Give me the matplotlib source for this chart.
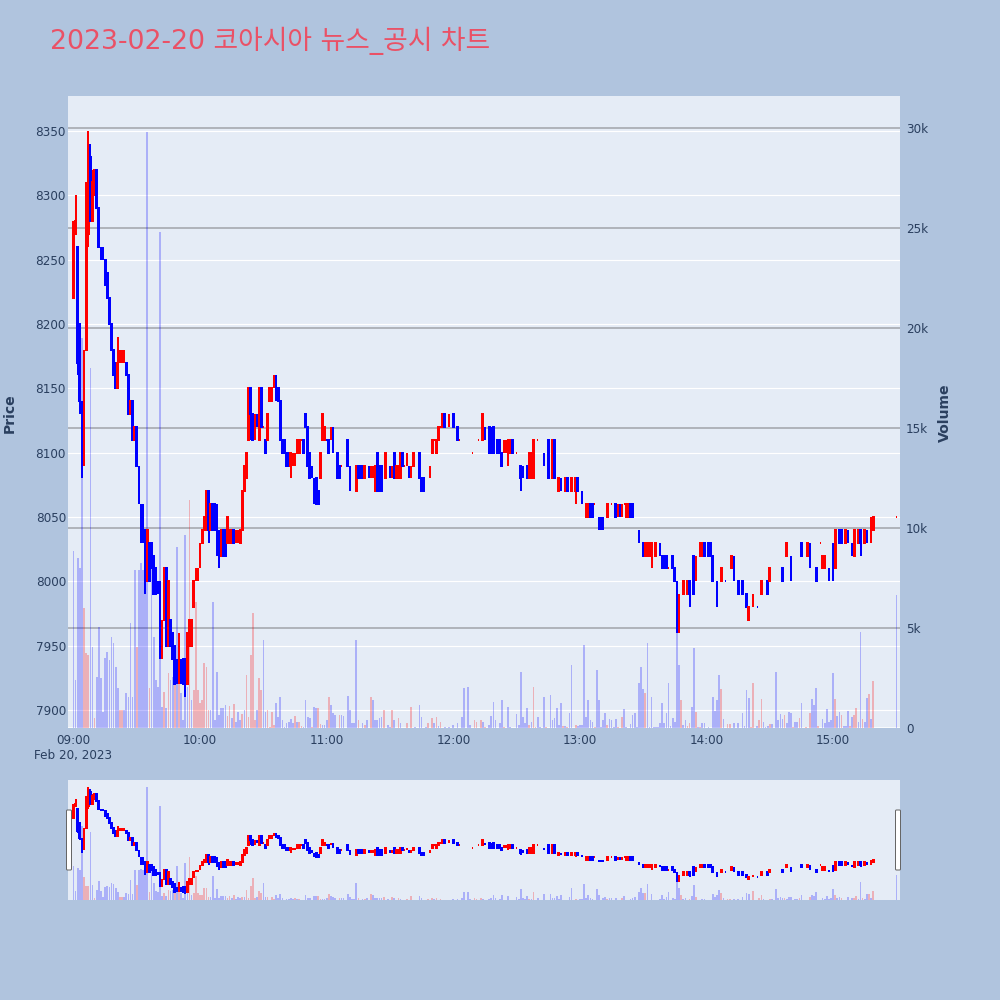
import matplotlib
matplotlib.use("Agg")
import matplotlib.pyplot as plt
from matplotlib.patches import FancyBboxPatch
from matplotlib.transforms import blended_transform_factory

plt.rcParams['font.family'] = ['DejaVu Sans', 'Noto Sans CJK KR']

# ---------------- data (minutes after 09:00) ----------------
title_text = "2023-02-20 코아시아 뉴스_공시 차트"
date_label = "Feb 20, 2023"
hour_ticks = [0, 60, 120, 180, 240, 300, 360]
hour_labels = ["09:00", "10:00", "11:00", "12:00", "13:00", "14:00", "15:00"]
price_ticks = [7900, 7950, 8000, 8050, 8100, 8150, 8200, 8250, 8300, 8350]
volume_ticks = [0, 5000, 10000, 15000, 20000, 25000, 30000]
volume_tick_labels = ["0", "5k", "10k", "15k", "20k", "25k", "30k"]

candle_minute = [
    0, 1, 2, 3, 4, 5, 6, 7, 8, 9,
    10, 11, 12, 13, 14, 15, 16, 17, 18, 19,
    20, 21, 22, 23, 24, 25, 26, 27, 28, 29,
    30, 31, 32, 33, 34, 35, 36, 37, 38, 39,
    40, 41, 42, 43, 44, 45, 46, 47, 48, 49,
    50, 51, 52, 53, 54, 55, 56, 57, 58, 59,
    60, 61, 62, 63, 64, 65, 66, 67, 68, 69,
    70, 71, 72, 73, 74, 75, 76, 77, 78, 79,
    80, 81, 82, 83, 84, 85, 86, 87, 88, 89,
    90, 91, 92, 93, 94, 95, 96, 97, 98, 99,
    100, 101, 102, 103, 104, 105, 106, 107, 108, 109,
    110, 111, 112, 113, 114, 115, 116, 117, 118, 119,
    120, 121, 122, 123, 125, 126, 127, 130, 131, 133,
    134, 135, 136, 137, 138, 140, 141, 142, 143, 144,
    145, 146, 148, 149, 150, 151, 152, 153, 154, 155,
    156, 157, 158, 159, 160, 161, 164, 165, 166, 169,
    170, 171, 172, 173, 174, 175, 176, 178, 180, 182,
    183, 186, 187, 189, 192, 194, 195, 196, 197, 198,
    199, 201, 202, 203, 204, 205, 206, 207, 208, 210,
    212, 213, 215, 216, 217, 218, 220, 223, 225, 227,
    228, 230, 231, 233, 234, 236, 238, 239, 241, 243,
    244, 245, 246, 247, 249, 250, 251, 253, 255, 257,
    258, 259, 260, 261, 262, 263, 264, 265, 267, 268,
    270, 271, 272, 273, 274, 276, 278, 279, 280, 281,
    282, 284, 285, 286, 287, 289, 291, 292, 294, 295,
    297, 298, 299, 301, 302, 303, 305, 307, 309, 312,
    313, 315, 317, 319, 320, 322, 324, 326, 329, 330,
    332, 336, 338, 340, 342, 345, 348, 349, 352, 354,
    355, 356, 358, 359, 360, 361, 363, 364, 366, 367,
    369, 370, 372, 373, 375, 376, 378, 379, 390,
]
candle_open = [
    8220, 8270, 8260, 8200, 8140, 8090, 8180, 8270, 8330, 8280,
    8300, 8320, 8290, 8260, 8260, 8250, 8240, 8220, 8200, 8180,
    8170, 8150, 8170, 8170, 8170, 8170, 8160, 8130, 8140, 8110,
    8120, 8090, 8060, 8060, 8040, 8000, 8030, 8030, 8020, 8010,
    8000, 7990, 7940, 7970, 8010, 7950, 7970, 7960, 7950, 7940,
    7920, 7940, 7940, 7940, 7920, 7950, 7950, 7980, 8000, 8000,
    8010, 8030, 8040, 8040, 8070, 8040, 8060, 8060, 8060, 8040,
    8020, 8040, 8040, 8030, 8030, 8030, 8040, 8030, 8030, 8030,
    8040, 8070, 8080, 8110, 8150, 8130, 8110, 8130, 8110, 8150,
    8120, 8110, 8110, 8140, 8140, 8150, 8160, 8150, 8140, 8110,
    8110, 8100, 8100, 8090, 8090, 8090, 8100, 8100, 8110, 8110,
    8130, 8120, 8100, 8090, 8080, 8080, 8070, 8080, 8110, 8110,
    8110, 8110, 8110, 8120, 8100, 8090, 8090, 8110, 8090, 8080,
    8070, 8090, 8090, 8090, 8080, 8090, 8080, 8080, 8070, 8100,
    8090, 8090, 8080, 8100, 8090, 8080, 8100, 8080, 8080, 8080,
    8100, 8090, 8090, 8090, 8080, 8090, 8100, 8080, 8080, 8080,
    8100, 8110, 8100, 8110, 8120, 8120, 8130, 8120, 8130, 8120,
    8110, 8100, 8090, 8100, 8110, 8110, 8120, 8120, 8120, 8110,
    8120, 8110, 8110, 8100, 8100, 8100, 8100, 8100, 8110, 8100,
    8090, 8090, 8090, 8080, 8080, 8080, 8110, 8100, 8110, 8080,
    8110, 8070, 8080, 8070, 8080, 8070, 8070, 8080, 8070, 8050,
    8050, 8060, 8060, 8060, 8050, 8050, 8050, 8050, 8060, 8060,
    8050, 8060, 8050, 8060, 8050, 8050, 8060, 8060, 8050, 8040,
    8030, 8020, 8020, 8020, 8020, 8020, 8030, 8020, 8020, 8020,
    8010, 8020, 8010, 8000, 7970, 7990, 7990, 8000, 8020, 8000,
    8020, 8020, 8030, 8030, 8030, 8020, 8000, 8000, 8000, 8010,
    8020, 8000, 8000, 7990, 7970, 7980, 7980, 7990, 8000, 8000,
    8010, 8010, 8020, 8020, 8010, 8030, 8020, 8030, 8010, 8030,
    8010, 8010, 8010, 8040, 8030, 8010, 8040, 8040, 8030, 8040,
    8030, 8020, 8030, 8040, 8030, 8040, 8030, 8040, 8050,
]
candle_high = [
    8280, 8300, 8260, 8200, 8140, 8180, 8310, 8350, 8340, 8320,
    8320, 8320, 8290, 8260, 8260, 8250, 8240, 8220, 8200, 8180,
    8170, 8190, 8180, 8180, 8180, 8170, 8160, 8140, 8140, 8120,
    8120, 8090, 8060, 8060, 8040, 8040, 8030, 8030, 8020, 8010,
    8000, 8000, 7970, 8010, 8010, 8000, 7970, 7960, 7950, 7940,
    7960, 7940, 7940, 7940, 7960, 7970, 7970, 8000, 8010, 8010,
    8030, 8040, 8050, 8070, 8070, 8060, 8060, 8060, 8060, 8040,
    8040, 8040, 8040, 8050, 8040, 8040, 8040, 8040, 8040, 8040,
    8070, 8090, 8100, 8150, 8150, 8130, 8130, 8130, 8150, 8150,
    8120, 8110, 8130, 8150, 8150, 8160, 8160, 8150, 8140, 8110,
    8110, 8100, 8100, 8100, 8100, 8100, 8110, 8110, 8110, 8110,
    8130, 8120, 8100, 8090, 8080, 8080, 8070, 8100, 8130, 8120,
    8110, 8110, 8120, 8120, 8100, 8090, 8090, 8110, 8090, 8080,
    8090, 8090, 8090, 8090, 8090, 8090, 8090, 8090, 8090, 8100,
    8090, 8090, 8100, 8100, 8090, 8090, 8100, 8090, 8090, 8100,
    8100, 8090, 8100, 8090, 8090, 8100, 8100, 8080, 8080, 8090,
    8110, 8110, 8110, 8120, 8120, 8130, 8130, 8130, 8130, 8120,
    8110, 8100, 8090, 8100, 8110, 8130, 8120, 8120, 8120, 8120,
    8120, 8110, 8110, 8100, 8110, 8110, 8110, 8110, 8110, 8100,
    8090, 8090, 8090, 8100, 8100, 8110, 8110, 8100, 8110, 8110,
    8110, 8080, 8080, 8080, 8080, 8080, 8080, 8080, 8070, 8060,
    8060, 8060, 8060, 8060, 8050, 8050, 8050, 8060, 8060, 8060,
    8060, 8060, 8060, 8060, 8060, 8060, 8060, 8060, 8050, 8040,
    8030, 8030, 8030, 8030, 8030, 8030, 8030, 8020, 8020, 8020,
    8010, 8020, 8010, 8000, 7990, 8000, 8000, 8000, 8020, 8020,
    8030, 8030, 8030, 8030, 8030, 8020, 8000, 8010, 8000, 8020,
    8020, 8000, 8000, 7990, 7980, 7990, 7980, 8000, 8000, 8010,
    8010, 8010, 8030, 8020, 8010, 8030, 8030, 8030, 8010, 8030,
    8020, 8020, 8010, 8040, 8030, 8040, 8040, 8040, 8040, 8040,
    8030, 8040, 8040, 8040, 8040, 8040, 8050, 8050, 8050,
]
candle_low = [
    8220, 8270, 8160, 8130, 8080, 8090, 8180, 8260, 8280, 8280,
    8300, 8290, 8260, 8250, 8250, 8230, 8220, 8200, 8180, 8160,
    8150, 8150, 8170, 8170, 8170, 8160, 8130, 8130, 8110, 8110,
    8090, 8060, 8030, 8030, 7990, 8000, 8000, 8010, 7990, 7990,
    7990, 7940, 7940, 7970, 7950, 7950, 7950, 7940, 7920, 7920,
    7920, 7920, 7920, 7910, 7920, 7950, 7950, 7980, 8000, 8000,
    8010, 8030, 8040, 8040, 8030, 8040, 8040, 8040, 8020, 8010,
    8020, 8020, 8020, 8030, 8030, 8030, 8030, 8030, 8030, 8030,
    8040, 8070, 8080, 8110, 8110, 8110, 8110, 8120, 8110, 8120,
    8120, 8100, 8110, 8140, 8140, 8150, 8140, 8140, 8110, 8100,
    8100, 8090, 8090, 8080, 8090, 8090, 8100, 8100, 8110, 8100,
    8120, 8090, 8080, 8080, 8060, 8060, 8060, 8080, 8110, 8110,
    8110, 8100, 8110, 8100, 8080, 8080, 8090, 8090, 8070, 8080,
    8070, 8080, 8080, 8080, 8080, 8080, 8080, 8080, 8070, 8070,
    8070, 8070, 8080, 8100, 8080, 8080, 8080, 8080, 8080, 8080,
    8090, 8090, 8090, 8080, 8080, 8090, 8080, 8070, 8070, 8080,
    8100, 8110, 8100, 8110, 8120, 8120, 8120, 8120, 8120, 8110,
    8110, 8100, 8090, 8100, 8110, 8110, 8110, 8120, 8100, 8100,
    8100, 8100, 8100, 8090, 8100, 8100, 8090, 8100, 8100, 8100,
    8070, 8080, 8080, 8080, 8080, 8080, 8110, 8090, 8080, 8080,
    8080, 8070, 8070, 8070, 8070, 8070, 8060, 8070, 8060, 8050,
    8050, 8050, 8050, 8060, 8040, 8040, 8040, 8050, 8060, 8050,
    8050, 8050, 8050, 8060, 8050, 8050, 8050, 8050, 8050, 8030,
    8020, 8020, 8020, 8020, 8010, 8020, 8020, 8010, 8010, 8010,
    8010, 8010, 8000, 7960, 7960, 7990, 7990, 7980, 7990, 8000,
    8020, 8020, 8020, 8020, 8020, 8000, 7980, 8000, 8000, 8010,
    8000, 7990, 7990, 7980, 7970, 7980, 7980, 7990, 7990, 8000,
    8010, 8000, 8020, 8000, 8010, 8020, 8020, 8010, 8000, 8030,
    8010, 8010, 8000, 8040, 8000, 8010, 8030, 8030, 8030, 8030,
    8020, 8020, 8030, 8020, 8030, 8030, 8030, 8040, 8050,
]
candle_close = [
    8270, 8280, 8170, 8140, 8100, 8180, 8300, 8330, 8280, 8310,
    8320, 8290, 8260, 8250, 8250, 8230, 8220, 8200, 8180, 8160,
    8150, 8170, 8180, 8180, 8180, 8160, 8130, 8140, 8110, 8120,
    8090, 8060, 8030, 8040, 8000, 8040, 8000, 8010, 7990, 7990,
    7990, 7950, 7970, 8010, 7950, 8000, 7950, 7940, 7920, 7920,
    7960, 7920, 7920, 7920, 7960, 7970, 7970, 8000, 8010, 8010,
    8030, 8040, 8050, 8070, 8040, 8060, 8040, 8040, 8030, 8020,
    8040, 8020, 8020, 8050, 8040, 8040, 8030, 8040, 8040, 8040,
    8070, 8090, 8100, 8150, 8130, 8110, 8130, 8120, 8150, 8120,
    8120, 8100, 8130, 8150, 8150, 8160, 8140, 8140, 8110, 8100,
    8100, 8090, 8090, 8100, 8100, 8100, 8110, 8110, 8110, 8100,
    8120, 8090, 8080, 8080, 8060, 8060, 8060, 8100, 8130, 8120,
    8110, 8100, 8120, 8100, 8080, 8080, 8090, 8090, 8070, 8080,
    8090, 8080, 8080, 8080, 8090, 8080, 8090, 8090, 8090, 8070,
    8070, 8070, 8100, 8100, 8080, 8090, 8080, 8090, 8090, 8100,
    8090, 8090, 8100, 8080, 8090, 8100, 8080, 8070, 8070, 8090,
    8110, 8110, 8110, 8120, 8120, 8130, 8120, 8130, 8120, 8110,
    8110, 8100, 8090, 8100, 8110, 8130, 8110, 8120, 8100, 8100,
    8100, 8100, 8100, 8090, 8110, 8110, 8110, 8110, 8100, 8100,
    8080, 8080, 8080, 8100, 8100, 8110, 8110, 8090, 8080, 8110,
    8080, 8080, 8070, 8080, 8070, 8080, 8080, 8070, 8060, 8060,
    8060, 8050, 8050, 8060, 8040, 8040, 8040, 8060, 8060, 8050,
    8060, 8050, 8060, 8060, 8060, 8060, 8050, 8050, 8050, 8030,
    8020, 8030, 8030, 8030, 8030, 8030, 8020, 8010, 8010, 8010,
    8010, 8010, 8000, 7960, 7990, 8000, 8000, 7990, 7990, 8020,
    8030, 8030, 8020, 8020, 8020, 8000, 7980, 8010, 8000, 8020,
    8000, 7990, 7990, 7980, 7980, 7990, 7980, 8000, 7990, 8010,
    8010, 8000, 8030, 8000, 8010, 8020, 8030, 8010, 8000, 8030,
    8020, 8020, 8000, 8040, 8000, 8040, 8030, 8030, 8040, 8030,
    8020, 8040, 8040, 8030, 8040, 8030, 8050, 8050, 8050,
]

# per-minute traded volume, 09:00 .. 15:19, then the 15:30 closing auction
volume = [
    8870, 2400, 8500, 7980, 19500, 5980, 3730, 3650, 18000, 4070,
    480, 2570, 5070, 2480, 820, 3480, 3810, 3400, 4570, 4230,
    3070, 1980, 900, 900, 900, 1730, 1570, 5230, 1570, 7900,
    4070, 7900, 8230, 7900, 7900, 29800, 1980, 8230, 4570, 2400,
    2070, 24800, 1070, 1820, 980, 2730, 2400, 2570, 2570, 9070,
    2900, 1730, 400, 9650, 2070, 11400, 1400, 1900, 6320, 1900,
    1230, 1400, 3230, 3070, 900, 900, 6320, 400, 2820, 650,
    980, 980, 1150, 600, 1100, 500, 1200, 300, 800, 400,
    700, 900, 2650, 570, 3650, 5730, 400, 900, 2480, 1900,
    4400, 820, 900, 70, 820, 150, 1230, 570, 1570, 400,
    70, 230, 320, 450, 230, 600, 320, 320, 100, 70,
    1400, 570, 480, 70, 1070, 980, 980, 200, 150, 150,
    400, 1570, 1150, 730, 650, 0, 650, 650, 620, 0,
    1600, 900, 230, 230, 4400, 400, 0, 230, 150, 400,
    0, 1570, 1400, 400, 400, 480, 570, 900, 0, 150,
    70, 900, 400, 0, 480, 230, 0, 0, 230, 0,
    1070, 0, 70, 0, 1150, 570, 0, 70, 230, 0,
    480, 230, 570, 100, 320, 0, 70, 0, 70, 0,
    150, 0, 230, 0, 570, 2000, 0, 2070, 150, 0,
    400, 320, 0, 400, 320, 70, 0, 150, 600, 1320,
    400, 0, 230, 1400, 70, 0, 1070, 70, 0, 0,
    680, 150, 2820, 570, 230, 980, 150, 320, 2070, 70,
    570, 70, 0, 1570, 70, 0, 1650, 400, 480, 980,
    150, 1270, 100, 100, 70, 730, 3150, 0, 150, 100,
    150, 150, 4150, 570, 1400, 400, 320, 70, 2900, 1400,
    70, 400, 730, 150, 430, 400, 70, 430, 70, 0,
    570, 930, 70, 0, 200, 650, 770, 70, 2230, 3070,
    1930, 1730, 4270, 70, 1530, 70, 70, 70, 230, 1270,
    270, 730, 2230, 100, 480, 320, 6500, 3150, 1400, 150,
    400, 100, 270, 1030, 3980, 820, 70, 70, 230, 230,
    0, 70, 0, 1570, 870, 1400, 2650, 1930, 450, 0,
    180, 180, 0, 270, 0, 270, 0, 730, 100, 1900,
    1520, 70, 2270, 0, 100, 400, 1430, 320, 70, 100,
    200, 200, 0, 2820, 400, 680, 430, 650, 230, 820,
    770, 70, 320, 320, 480, 1230, 0, 70, 0, 730,
    1430, 1150, 1980, 100, 0, 430, 270, 930, 320, 400,
    2770, 1430, 600, 820, 650, 100, 100, 870, 100, 570,
    650, 980, 320, 4820, 430, 320, 1480, 1700, 430, 2350,
]
volume_up = [
    0, 0, 0, 0, 0, 1, 1, 1, 0, 0,
    1, 0, 0, 0, 0, 0, 0, 0, 0, 0,
    0, 0, 1, 1, 0, 0, 0, 0, 0, 0,
    1, 0, 0, 0, 0, 0, 1, 0, 0, 0,
    0, 0, 0, 1, 0, 1, 0, 0, 1, 0,
    1, 0, 0, 0, 0, 1, 0, 1, 1, 1,
    1, 1, 1, 1, 1, 0, 0, 0, 0, 0,
    0, 0, 0, 1, 1, 0, 1, 0, 0, 0,
    1, 0, 1, 1, 1, 1, 1, 0, 1, 1,
    0, 0, 1, 1, 1, 1, 0, 0, 0, 0,
    0, 0, 0, 0, 0, 1, 0, 1, 1, 0,
    0, 0, 0, 1, 0, 0, 1, 1, 0, 0,
    0, 1, 0, 0, 0, 0, 1, 0, 0, 0,
    0, 0, 0, 0, 0, 1, 0, 0, 1, 0,
    0, 1, 0, 0, 0, 0, 0, 1, 0, 0,
    0, 1, 0, 0, 1, 0, 0, 0, 1, 0,
    1, 0, 0, 0, 0, 0, 0, 0, 1, 0,
    1, 0, 1, 0, 1, 0, 0, 0, 0, 0,
    0, 0, 0, 0, 0, 0, 0, 0, 0, 0,
    1, 1, 0, 1, 0, 1, 0, 0, 0, 0,
    0, 0, 0, 0, 1, 0, 0, 0, 0, 0,
    0, 0, 0, 0, 0, 0, 1, 0, 1, 1,
    0, 0, 0, 0, 1, 0, 0, 0, 0, 0,
    0, 0, 1, 0, 1, 0, 0, 0, 1, 0,
    0, 0, 0, 0, 0, 0, 0, 1, 0, 0,
    0, 0, 0, 1, 0, 0, 0, 0, 1, 0,
    1, 0, 0, 0, 0, 0, 0, 0, 0, 0,
    0, 1, 0, 0, 0, 0, 0, 0, 0, 0,
    0, 0, 0, 0, 0, 0, 0, 0, 1, 0,
    0, 1, 1, 0, 0, 1, 0, 1, 0, 0,
    0, 0, 0, 0, 0, 0, 0, 1, 0, 0,
    1, 1, 0, 0, 0, 0, 0, 0, 0, 0,
    0, 1, 1, 0, 0, 1, 1, 0, 0, 0,
    1, 0, 0, 0, 0, 0, 0, 1, 0, 0,
    0, 1, 0, 0, 1, 0, 0, 1, 0, 1,
    0, 0, 0, 1, 0, 0, 0, 0, 0, 0,
    0, 1, 0, 0, 1, 0, 0, 0, 1, 0,
    1, 1, 0, 0, 1, 0, 0, 1, 0, 1,
]
auction_minute = 390
auction_volume = 6650
auction_up = 0

# ---------------- style ----------------
UP_COL = '#ff0000'
DOWN_COL = '#0000ff'
UP_VOL = (1.0, 0.0, 0.0, 0.25)
DOWN_VOL = (0.0, 0.0, 1.0, 0.25)
PLOT_BG = '#e5ecf6'
PAPER_BG = '#b0c4de'
TXT = '#2a3f5f'
TITLE_COL = '#ea5166'
VGRID_COL = '#a3a7ad'

X_RANGE = (-2.6, 391.7)
PRICE_RANGE = (7886.0, 8377.2)
VOL_RANGE = (0, 31600)


def pt(px):
    return px * 72.0 / 100.0


def rect(l, t, r, b):
    return [l / 1000.0, 1 - b / 1000.0, (r - l) / 1000.0, (b - t) / 1000.0]


# candle directions (equal open/close compares with previous close)
cand_up = []
prev_c = None
for o, c in zip(candle_open, candle_close):
    if c > o:
        cand_up.append(True)
    elif c < o:
        cand_up.append(False)
    else:
        cand_up.append(prev_c is None or c >= prev_c)
    prev_c = c
cand_col = [UP_COL if u else DOWN_COL for u in cand_up]

vol_x = list(range(len(volume))) + [auction_minute]
vol_y = volume + [auction_volume]
vol_c = [UP_VOL if u else DOWN_VOL for u in (volume_up + [auction_up])]

body_bottom = [min(o, c) for o, c in zip(candle_open, candle_close)]
body_height = [abs(c - o) for o, c in zip(candle_open, candle_close)]


def draw_traces(axv, axp):
    axv.bar(vol_x, vol_y, width=0.8, color=vol_c, linewidth=0, zorder=2)
    axp.vlines(candle_minute, candle_low, candle_high, colors=cand_col,
               linewidth=pt(2), zorder=3)
    axp.bar(candle_minute, body_height, bottom=body_bottom, width=0.35,
            color=cand_col, edgecolor=cand_col, linewidth=pt(2), zorder=4)


fig = plt.figure(figsize=(10, 10), dpi=100)
fig.patch.set_facecolor(PAPER_BG)

# ---------------- main panel ----------------
axv = fig.add_axes(rect(68, 96, 900, 728))
axp = axv.twinx()
axv.set_facecolor(PLOT_BG)
axv.set_xlim(*X_RANGE)
axv.set_ylim(*VOL_RANGE)
axp.set_ylim(*PRICE_RANGE)

for v in volume_ticks[1:]:
    axv.axhline(v, color=VGRID_COL, linewidth=pt(1.6), zorder=1)
axv.axhline(0, color='white', linewidth=pt(2.5), zorder=1)
price_tr = blended_transform_factory(axv.transAxes, axp.transData)
for p in price_ticks:
    axv.plot([0, 1], [p, p], transform=price_tr, color='white',
             linewidth=pt(1.2), zorder=1)

draw_traces(axv, axp)

for a in (axv, axp):
    for s in a.spines.values():
        s.set_visible(False)

axv.yaxis.tick_right()
axv.set_yticks(volume_ticks)
axv.set_yticklabels(volume_tick_labels)
axv.tick_params(axis='y', length=0, pad=pt(6), labelsize=pt(12), labelcolor=TXT)
axp.yaxis.tick_left()
axp.set_yticks(price_ticks)
axp.set_yticklabels([str(p) for p in price_ticks])
axp.tick_params(axis='y', length=0, pad=pt(2), labelsize=pt(12), labelcolor=TXT)

xlabels = list(hour_labels)
xlabels[0] = hour_labels[0] + "\n" + date_label
axv.set_xticks(hour_ticks)
axv.set_xticklabels(xlabels, linespacing=1.25)
axv.tick_params(axis='x', length=0, pad=pt(6), labelsize=pt(12), labelcolor=TXT)
axp.tick_params(axis='x', length=0)

fig.text(10 / 1000, 1 - 413 / 1000, "Price", rotation=90, ha='center', va='center',
         fontsize=pt(14), fontweight='bold', color=TXT)
fig.text(945 / 1000, 1 - 413 / 1000, "Volume", rotation=90, ha='center', va='center',
         fontsize=pt(14), fontweight='bold', color=TXT)

fig.text(50 / 1000, 1 - 41 / 1000, title_text, ha='left', va='center',
         fontsize=pt(26.8), color=TITLE_COL)

# ---------------- range slider ----------------
sv = fig.add_axes(rect(68, 780, 900, 900))
sp = sv.twinx()
sv.set_facecolor(PLOT_BG)
sv.set_xlim(*X_RANGE)
sv.set_ylim(*VOL_RANGE)
sp.set_ylim(*PRICE_RANGE)
draw_traces(sv, sp)
for a in (sv, sp):
    for s in a.spines.values():
        s.set_visible(False)
    a.set_xticks([])
    a.set_yticks([])

for hx in (69, 898):
    fig.patches.append(FancyBboxPatch(
        ((hx - 2.5) / 1000, 1 - 870 / 1000), 5 / 1000, 60 / 1000,
        boxstyle="round,pad=0,rounding_size=0.001",
        transform=fig.transFigure, facecolor='white', edgecolor='#666666',
        linewidth=pt(1), zorder=10))

fig.savefig("out.png", dpi=100, facecolor=PAPER_BG)
